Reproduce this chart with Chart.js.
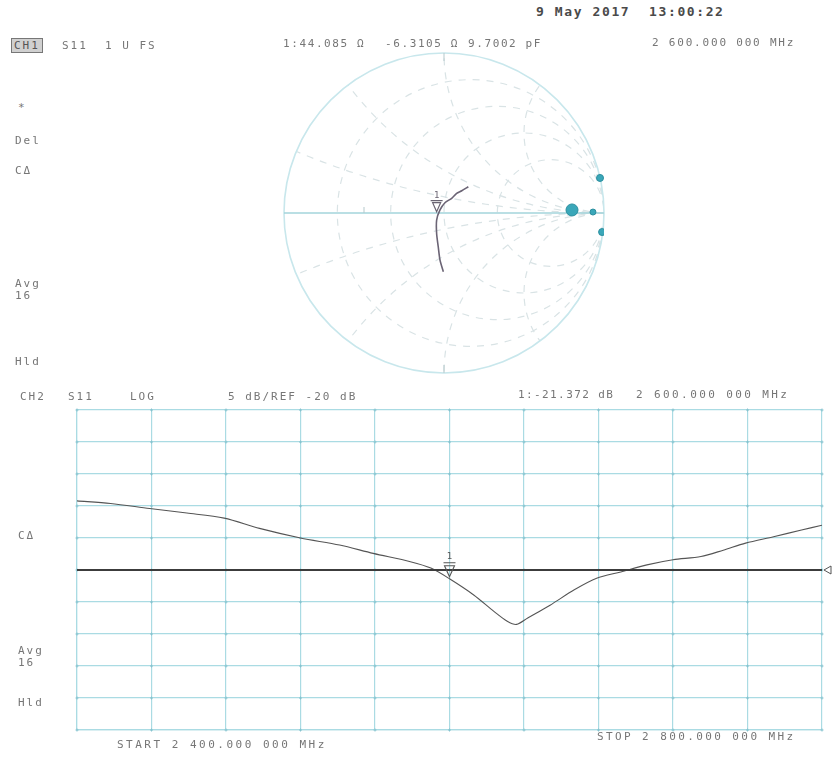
<!DOCTYPE html>
<html><head><meta charset="utf-8">
<script src="https://cdn.jsdelivr.net/npm/chart.js@4/dist/chart.umd.min.js"></script>
<style>
html,body{margin:0;padding:0;background:#fff}
body{width:839px;height:758px;position:relative;overflow:hidden;font-family:"DejaVu Sans Mono",monospace;color:#767676}
.t{position:absolute;font-size:11px;line-height:11px;white-space:pre;letter-spacing:2px}
.box{border:1px solid #777;background:#d0d0d0;padding:1px 2px;color:#555}
#smithWrap{position:absolute;left:274px;top:43px;width:340px;height:340px}
#logWrap{position:absolute;left:0;top:380px;width:839px;height:378px}
</style></head><body>
<div id="smithWrap"><canvas id="smith" width="340" height="340"></canvas></div>
<div id="logWrap"><canvas id="logm" width="839" height="378"></canvas></div>

<div class="t" style="left:536px;top:6px;font-size:13px;font-weight:bold;color:#4a4a4a;letter-spacing:1.6px">9 May 2017  13:00:22</div>
<div class="t box" style="left:11px;top:38px">CH1</div>
<div class="t" style="left:62px;top:40px">S11</div>
<div class="t" style="left:105px;top:40px">1 U FS</div>
<div class="t" style="left:283px;top:38px;letter-spacing:1.6px">1:44.085 Ω</div>
<div class="t" style="left:385px;top:38px;letter-spacing:1.6px">-6.3105 Ω</div>
<div class="t" style="left:468px;top:38px;letter-spacing:1.6px">9.7002 pF</div>
<div class="t" style="left:652px;top:37px;letter-spacing:1.8px">2 600.000 000 MHz</div>
<div class="t" style="left:18px;top:102px">*</div>
<div class="t" style="left:15px;top:135px">Del</div>
<div class="t" style="left:15px;top:165px">CΔ</div>
<div class="t" style="left:15px;top:278px">Avg</div>
<div class="t" style="left:15px;top:290px">16</div>
<div class="t" style="left:15px;top:356px">Hld</div>

<div class="t" style="left:20px;top:391px">CH2</div>
<div class="t" style="left:68px;top:391px">S11</div>
<div class="t" style="left:130px;top:391px">LOG</div>
<div class="t" style="left:228px;top:391px">5 dB/REF -20 dB</div>
<div class="t" style="left:518px;top:389px;letter-spacing:1.4px">1:-21.372 dB</div>
<div class="t" style="left:636px;top:389px;letter-spacing:2.4px">2 600.000 000 MHz</div>
<div class="t" style="left:18px;top:530px">CΔ</div>
<div class="t" style="left:18px;top:645px">Avg</div>
<div class="t" style="left:18px;top:657px">16</div>
<div class="t" style="left:18px;top:697px">Hld</div>
<div class="t" style="left:117px;top:739px;letter-spacing:2.5px">START 2 400.000 000 MHz</div>
<div class="t" style="left:597px;top:731px;letter-spacing:2.4px">STOP 2 800.000 000 MHz</div>

<script>
// ---- CH2 log-magnitude trace (S11, dB) ----
const freqMHz = [2400, 2418, 2439, 2459, 2479, 2498, 2520, 2541, 2559, 2579, 2590, 2600, 2613, 2624, 2631, 2636, 2642, 2654, 2667, 2679, 2692, 2706, 2720, 2735, 2747, 2759, 2774, 2789, 2800];
const s11dB   = [-9.2, -9.6, -10.4, -11.1, -11.9, -13.5, -15.0, -16.1, -17.4, -18.7, -19.7, -21.37, -23.9, -26.5, -28.0, -28.5, -27.5, -25.5, -23.1, -21.3, -20.3, -19.2, -18.4, -17.9, -16.9, -15.8, -14.8, -13.75, -13.0];
const refLevelDB = -20;
const scaleDBperDiv = 5;
const markerFreqMHz = 2600;
const markerDB = -21.372;

// ---- CH1 Smith chart trace (reflection coefficient) ----
const smithRe = [-0.004, -0.025, -0.036, -0.046, -0.046, -0.025, 0.006, 0.048, 0.079, 0.111, 0.152];
const smithIm = [-0.367, -0.294, -0.211, -0.130, -0.044, 0.019, 0.064, 0.092, 0.123, 0.139, 0.164];
const smithMarkerRe = -0.046, smithMarkerIm = 0.008;
const spotRe = [0.80, 0.931, 0.975, 0.988];
const spotIm = [0.019, 0.006, 0.219, -0.119];
const spotSize = [6, 3, 3.5, 3.5];
const smithR = [0.2, 0.5, 1, 2];
const smithX = [0.2, 0.5, 1, 2];

// ---------------- Smith chart ----------------
const smithGrid = {
  id: 'smithGrid',
  beforeDatasetsDraw(chart) {
    const {ctx, scales: {x, y}} = chart;
    const px = v => x.getPixelForValue(v), py = v => y.getPixelForValue(v);
    const R = px(1) - px(0), cx = px(0), cy = py(0);
    ctx.save();
    ctx.beginPath(); ctx.arc(cx, cy, R, 0, 2 * Math.PI); ctx.clip();
    ctx.setLineDash([7, 7]); ctx.strokeStyle = '#d9e3e5'; ctx.lineWidth = 1.2;
    smithR.forEach(r => {
      ctx.beginPath(); ctx.arc(px(r / (1 + r)), cy, R / (1 + r), 0, 2 * Math.PI); ctx.stroke();
    });
    smithX.forEach(xv => {
      [xv, -xv].forEach(v => {
        ctx.beginPath(); ctx.arc(px(1), py(1 / v), Math.abs(1 / v) * R, 0, 2 * Math.PI); ctx.stroke();
      });
    });
    ctx.restore();
    ctx.save();
    ctx.strokeStyle = '#c8e7ec'; ctx.lineWidth = 1.6;
    ctx.beginPath(); ctx.arc(cx, cy, R, 0, 2 * Math.PI); ctx.stroke();
    ctx.strokeStyle = '#a3d5db'; ctx.lineWidth = 1.3;
    ctx.beginPath(); ctx.moveTo(px(-1), cy); ctx.lineTo(px(1), cy); ctx.stroke();
    ctx.strokeStyle = '#b5c9cc'; ctx.lineWidth = 1;
    ctx.beginPath();
    ctx.moveTo(cx, py(1)); ctx.lineTo(cx, py(1) + 8);
    ctx.moveTo(cx, py(-1)); ctx.lineTo(cx, py(-1) - 8);
    ctx.moveTo(px(-0.5), cy); ctx.lineTo(px(-0.5), cy - 6);
    ctx.stroke();
    ctx.restore();
  },
  afterDatasetsDraw(chart) {
    const {ctx, scales: {x, y}} = chart;
    const mx = x.getPixelForValue(smithMarkerRe), my = y.getPixelForValue(smithMarkerIm);
    ctx.save();
    ctx.strokeStyle = '#6a6472'; ctx.lineWidth = 1.2;
    ctx.beginPath();
    ctx.moveTo(mx, my); ctx.lineTo(mx - 4, my - 9); ctx.lineTo(mx + 4, my - 9); ctx.closePath();
    ctx.moveTo(mx - 6, my - 11); ctx.lineTo(mx + 6, my - 11);
    ctx.stroke();
    ctx.fillStyle = '#6a6472'; ctx.font = '9px "DejaVu Sans Mono"'; ctx.textAlign = 'center';
    ctx.fillText('1', mx, my - 14);
    ctx.restore();
  }
};

new Chart(document.getElementById('smith'), {
  type: 'scatter',
  data: {
    datasets: [
      { data: smithRe.map((r, i) => ({x: r, y: smithIm[i]})), showLine: true, borderColor: '#6b6475', borderWidth: 1.6, pointRadius: 0, tension: 0.25 },
      { data: spotRe.map((r, i) => ({x: r, y: spotIm[i]})), showLine: false, pointRadius: spotSize, backgroundColor: '#3aa7b9', borderColor: '#2c8f9f', borderWidth: 1 }
    ]
  },
  options: {
    responsive: false, animation: false, devicePixelRatio: 1,
    layout: { padding: 10 },
    plugins: { legend: { display: false }, tooltip: { enabled: false } },
    scales: {
      x: { type: 'linear', min: -1, max: 1, display: false },
      y: { type: 'linear', min: -1, max: 1, display: false }
    }
  },
  plugins: [smithGrid]
});

// ---------------- Log-magnitude chart ----------------
const gridColor = '#aadbe3';
const logExtras = {
  id: 'logExtras',
  beforeDatasetsDraw(chart) {
    const {ctx, scales: {x, y}} = chart;
    ctx.save();
    ctx.strokeStyle = '#86c3cf'; ctx.lineWidth = 1;
    x.ticks.forEach(tx => {
      y.ticks.forEach(ty => {
        const X = x.getPixelForValue(tx.value), Y = y.getPixelForValue(ty.value);
        ctx.beginPath(); ctx.moveTo(X - 1.5, Y); ctx.lineTo(X + 1.5, Y); ctx.moveTo(X, Y - 1.5); ctx.lineTo(X, Y + 1.5); ctx.stroke();
      });
    });
    ctx.restore();
  },
  afterDatasetsDraw(chart) {
    const {ctx, scales: {x, y}} = chart;
    ctx.save();
    const ry = y.getPixelForValue(refLevelDB), rx = x.right + 2;
    ctx.strokeStyle = '#555'; ctx.lineWidth = 1;
    ctx.beginPath(); ctx.moveTo(rx, ry); ctx.lineTo(rx + 7, ry - 4); ctx.lineTo(rx + 7, ry + 4); ctx.closePath(); ctx.stroke();
    const mx = x.getPixelForValue(markerFreqMHz), my = y.getPixelForValue(markerDB);
    ctx.strokeStyle = '#555'; ctx.lineWidth = 1.1;
    ctx.beginPath();
    ctx.moveTo(mx, my - 2); ctx.lineTo(mx - 5, my - 13); ctx.lineTo(mx + 5, my - 13); ctx.closePath();
    ctx.moveTo(mx - 6, my - 16); ctx.lineTo(mx + 6, my - 16);
    ctx.stroke();
    ctx.fillStyle = '#555'; ctx.font = '9px "DejaVu Sans Mono"'; ctx.textAlign = 'center';
    ctx.fillText('1', mx, my - 20);
    ctx.restore();
  }
};

new Chart(document.getElementById('logm'), {
  type: 'line',
  data: {
    datasets: [
      { data: [{x: freqMHz[0], y: refLevelDB}, {x: freqMHz[freqMHz.length - 1], y: refLevelDB}], borderColor: '#3c3c3c', borderWidth: 2, pointRadius: 0 },
      { data: freqMHz.map((f, i) => ({x: f, y: s11dB[i]})), borderColor: '#555', borderWidth: 1.1, pointRadius: 0, tension: 0.3 }
    ]
  },
  options: {
    responsive: false, animation: false, devicePixelRatio: 1,
    layout: { padding: { left: 77, right: 17, top: 30, bottom: 28 } },
    plugins: { legend: { display: false }, tooltip: { enabled: false } },
    scales: {
      x: { type: 'linear', min: 2400, max: 2800, ticks: { display: false, stepSize: 40 },
           grid: { color: gridColor, lineWidth: 1.2, drawTicks: false }, border: { color: gridColor, width: 1.2 } },
      y: { type: 'linear', min: refLevelDB - 5 * scaleDBperDiv, max: refLevelDB + 5 * scaleDBperDiv, ticks: { display: false, stepSize: scaleDBperDiv },
           grid: { color: gridColor, lineWidth: 1.2, drawTicks: false }, border: { color: gridColor, width: 1.2 } }
    }
  },
  plugins: [logExtras]
});
</script>
</body></html>
